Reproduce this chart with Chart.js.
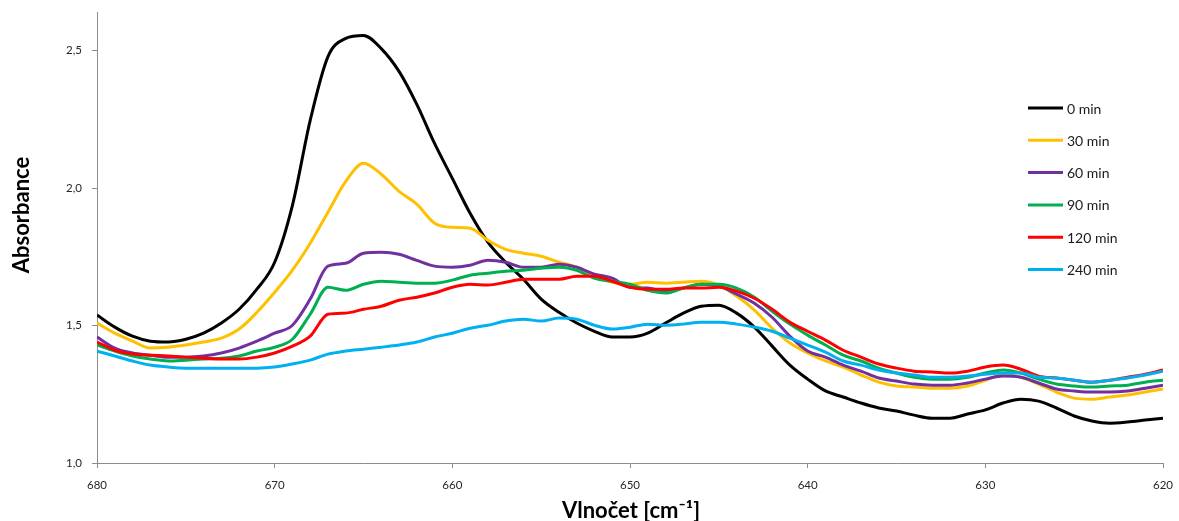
<!DOCTYPE html>
<html>
<head>
<meta charset="utf-8">
<script src="https://cdn.jsdelivr.net/npm/chart.js@4/dist/chart.umd.min.js"></script>
<style>
  html, body { margin: 0; padding: 0; background: #ffffff; }
  #wrap { width: 1179px; height: 521px; position: relative; }
</style>
</head>
<body>
<div id="wrap"><canvas id="spectrum" width="1179" height="521"></canvas></div>
<script>
// Wavenumbers (cm^-1), plotted right-to-left
const wavenumbers = [680,679,678,677,676,675,674,673,672,671,670,669,668,667,666,665,664,663,662,661,
  660,659,658,657,656,655,654,653,652,651,650,649,648,647,646,645,644,643,642,641,
  640,639,638,637,636,635,634,633,632,631,630,629,628,627,626,625,624,623,622,621,620];

const seriesLabels = ['0 min', '30 min', '60 min', '90 min', '120 min', '240 min'];
const seriesColors = ['#000000', '#FFC000', '#7030A0', '#00B050', '#FF0000', '#00B0F0'];

// Absorbance for each irradiation time
const abs0 = [1.538,1.494,1.461,1.443,1.440,1.450,1.472,1.509,1.559,1.632,
  1.730,1.937,2.246,2.478,2.544,2.555,2.507,2.424,2.304,2.162,
  2.035,1.908,1.803,1.730,1.668,1.596,1.548,1.509,1.479,1.458,
  1.458,1.472,1.509,1.545,1.570,1.574,1.545,1.494,1.425,1.356,
  1.305,1.262,1.240,1.218,1.200,1.189,1.174,1.163,1.163,1.178,
  1.193,1.218,1.232,1.225,1.200,1.171,1.153,1.145,1.149,1.156,1.163];
const abs30 = [1.509,1.472,1.443,1.418,1.421,1.429,1.440,1.454,1.487,1.548,
  1.621,1.701,1.799,1.912,2.024,2.090,2.050,1.988,1.941,1.872,
  1.857,1.854,1.810,1.777,1.763,1.752,1.730,1.712,1.676,1.657,
  1.650,1.657,1.654,1.657,1.661,1.647,1.607,1.556,1.490,1.436,
  1.400,1.371,1.349,1.320,1.294,1.280,1.276,1.272,1.272,1.280,
  1.301,1.320,1.312,1.287,1.258,1.236,1.232,1.240,1.247,1.258,1.269];
const abs60 = [1.458,1.418,1.400,1.392,1.385,1.385,1.389,1.400,1.418,1.443,
  1.472,1.501,1.596,1.716,1.726,1.763,1.766,1.759,1.737,1.716,
  1.712,1.719,1.737,1.730,1.712,1.712,1.723,1.712,1.687,1.672,
  1.639,1.636,1.625,1.636,1.650,1.643,1.614,1.581,1.530,1.461,
  1.407,1.385,1.356,1.334,1.309,1.298,1.287,1.283,1.283,1.291,
  1.305,1.316,1.312,1.291,1.269,1.262,1.258,1.258,1.262,1.272,1.283];
const abs90 = [1.429,1.407,1.389,1.378,1.371,1.374,1.378,1.381,1.389,1.407,
  1.421,1.450,1.541,1.639,1.628,1.650,1.661,1.657,1.654,1.654,
  1.665,1.683,1.690,1.697,1.701,1.708,1.712,1.701,1.672,1.661,
  1.650,1.628,1.618,1.636,1.650,1.650,1.636,1.603,1.552,1.505,
  1.465,1.429,1.392,1.371,1.345,1.327,1.312,1.305,1.305,1.312,
  1.327,1.338,1.327,1.305,1.287,1.280,1.276,1.280,1.283,1.294,1.301];
const abs120 = [1.440,1.410,1.396,1.392,1.389,1.385,1.381,1.378,1.378,1.385,
  1.400,1.425,1.461,1.541,1.545,1.559,1.570,1.592,1.603,1.618,
  1.639,1.650,1.647,1.657,1.668,1.668,1.668,1.679,1.679,1.661,
  1.639,1.632,1.632,1.636,1.636,1.639,1.625,1.599,1.559,1.512,
  1.479,1.447,1.410,1.385,1.360,1.345,1.334,1.331,1.327,1.334,
  1.349,1.356,1.341,1.316,1.309,1.301,1.294,1.301,1.312,1.323,1.338];
const abs240 = [1.407,1.389,1.371,1.356,1.349,1.345,1.345,1.345,1.345,1.345,
  1.349,1.360,1.374,1.396,1.407,1.414,1.421,1.429,1.440,1.458,
  1.472,1.490,1.501,1.516,1.523,1.516,1.527,1.523,1.501,1.487,
  1.494,1.505,1.501,1.505,1.512,1.512,1.505,1.494,1.479,1.454,
  1.429,1.403,1.371,1.356,1.338,1.327,1.320,1.312,1.312,1.316,
  1.323,1.327,1.327,1.312,1.309,1.301,1.294,1.301,1.309,1.320,1.334];

const xTicks = [680, 670, 660, 650, 640, 630, 620];
const yTicks = [1.0, 1.5, 2.0, 2.5];

const seriesValues = [abs0, abs30, abs60, abs90, abs120, abs240];

const FONT = 'Lato, "Open Sans", "DejaVu Sans", sans-serif';
Chart.defaults.font.family = FONT;

const datasets = seriesValues.map((vals, i) => ({
  label: seriesLabels[i],
  data: wavenumbers.map((w, k) => ({ x: w, y: vals[k] })),
  borderColor: seriesColors[i],
  backgroundColor: seriesColors[i],
  borderWidth: 3,
  pointRadius: 0,
  fill: false,
  cubicInterpolationMode: 'monotone',
  order: seriesValues.length - i   // later series drawn on top
}));

// Legend lines + labels at the right side of the plot
const sideLegend = {
  id: 'sideLegend',
  afterDraw(chart) {
    const ctx = chart.ctx;
    ctx.save();
    chart.data.datasets.forEach((ds, i) => {
      const y = 108 + i * 32.3;
      ctx.strokeStyle = ds.borderColor;
      ctx.lineWidth = 3;
      ctx.beginPath();
      ctx.moveTo(1028, y);
      ctx.lineTo(1063, y);
      ctx.stroke();
      ctx.fillStyle = '#1a1a1a';
      ctx.font = '14px ' + FONT;
      ctx.textBaseline = 'middle';
      ctx.textAlign = 'left';
      ctx.fillText(ds.label, 1067, y + 1);
    });
    ctx.restore();
  }
};

// Axis titles
const axisTitles = {
  id: 'axisTitles',
  afterDraw(chart) {
    const ctx = chart.ctx;
    ctx.save();
    ctx.fillStyle = '#000000';
    ctx.font = 'bold 22px ' + FONT;
    ctx.textAlign = 'center';
    ctx.textBaseline = 'alphabetic';
    ctx.fillText('Vlnočet [cm\u207B\u00B9]', 631, 518);
    ctx.translate(29, 215);
    ctx.rotate(-Math.PI / 2);
    ctx.fillText('Absorbance', 0, 0);
    ctx.restore();
  }
};

new Chart(document.getElementById('spectrum'), {
  type: 'line',
  data: { datasets },
  options: {
    responsive: false,
    animation: false,
    devicePixelRatio: 1,
    layout: { padding: { left: 0, top: 12, right: 16, bottom: 0 } },
    plugins: { legend: { display: false }, tooltip: { enabled: false } },
    scales: {
      x: {
        type: 'linear',
        reverse: true,
        min: 620,
        max: 680,
        afterBuildTicks: s => { s.ticks = xTicks.map(v => ({ value: v })); },
        afterFit: s => { s.height = 58; s.paddingLeft = 0; s.paddingRight = 0; },
        grid: { drawOnChartArea: false, drawTicks: true, tickLength: 5, color: '#8c8c8c', lineWidth: 1 },
        border: { display: true, color: '#8c8c8c', width: 1 },
        ticks: { color: '#262626', font: { size: 11.5 }, padding: 10, maxRotation: 0,
                 callback: v => String(v) }
      },
      y: {
        type: 'linear',
        min: 1.0,
        max: 2.64,
        afterBuildTicks: s => { s.ticks = yTicks.map(v => ({ value: v })); },
        afterFit: s => { s.width = 97; s.paddingTop = 0; s.paddingBottom = 0; },
        grid: { drawOnChartArea: false, drawTicks: true, tickLength: 5, color: '#8c8c8c', lineWidth: 1 },
        border: { display: true, color: '#8c8c8c', width: 1 },
        ticks: { color: '#262626', font: { size: 11.5 }, padding: 10,
                 callback: v => Number(v).toFixed(1).replace('.', ',') }
      }
    }
  },
  plugins: [sideLegend, axisTitles]
});
</script>
</body>
</html>
